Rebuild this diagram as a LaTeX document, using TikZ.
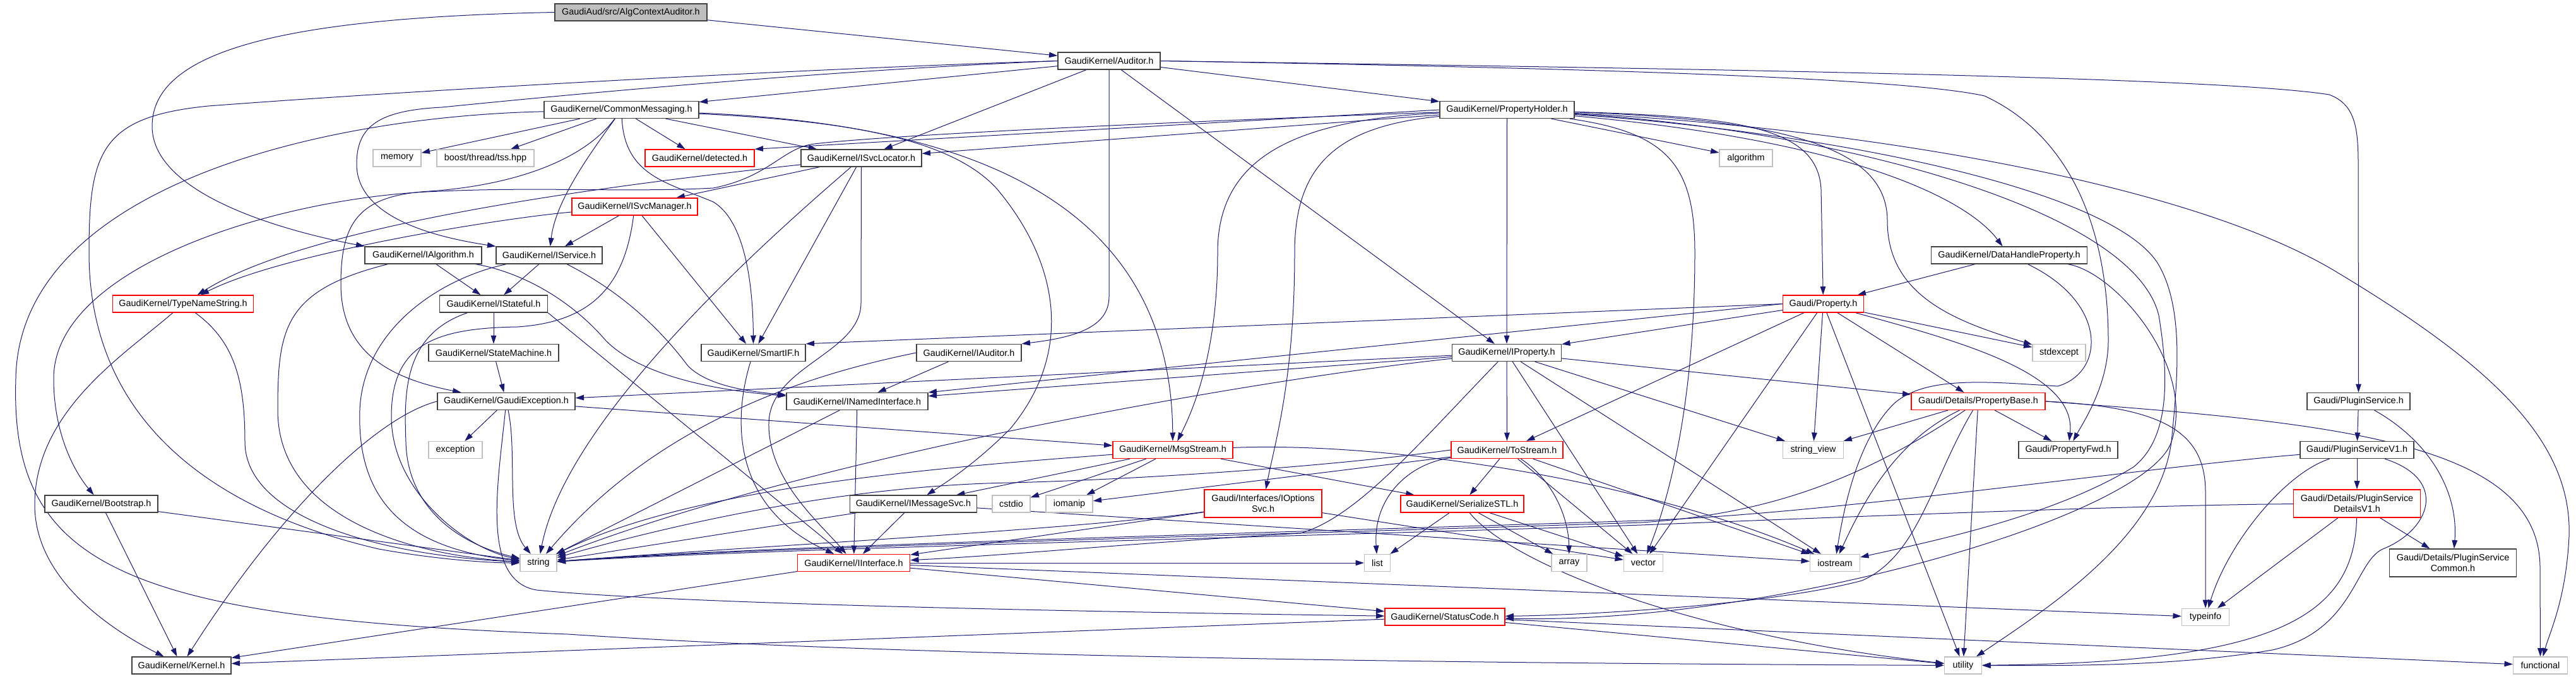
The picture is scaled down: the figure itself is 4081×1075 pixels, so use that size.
\documentclass[tikz,border=0pt]{standalone}
\usepackage{fontspec}
\setmainfont{Liberation Sans}
\usetikzlibrary{arrows.meta}
\definecolor{edgec}{HTML}{191970}
\definecolor{grayb}{HTML}{BFBFBF}
\definecolor{blkb}{HTML}{404040}
\definecolor{redb}{HTML}{FF0000}
\pgfdeclarelayer{bg}
\pgfsetlayers{bg,main}
\begin{document}
\begin{tikzpicture}[x=0.75pt,y=-0.75pt,
  base/.style={rectangle, inner sep=0pt, fill=white, align=center, font=\fontsize{10.8}{13}\selectfont},
  nk/.style={base, draw=blkb, line width=1pt},
  nr/.style={base, draw=redb, line width=1pt},
  ng/.style={base, draw=grayb, line width=1pt},
  wh/.style 2 args={minimum width={#1*0.75pt}, minimum height={#2*0.75pt}},
  lnk/.style={draw=edgec, line width=0.75pt, -{Triangle[length=10pt,width=6.5pt]}}]
\useasboundingbox (0,0) rectangle (4081,1075);
% ---------------- nodes
\node[nk,wh={241}{27},fill=grayb] (aca) at (999.5,19.5) {GaudiAud/src/AlgContextAuditor.h};
\node[nk,wh={162}{27}] (aud) at (1757,96.5) {GaudiKernel/Auditor.h};
\node[nk,wh={245}{27}] (cm) at (984.5,174) {GaudiKernel/CommonMessaging.h};
\node[nk,wh={213}{27}] (ph) at (2387.5,174) {GaudiKernel/PropertyHolder.h};
\node[ng,wh={76}{27}] (mem) at (629,250.5) {memory};
\node[ng,wh={154}{27}] (tss) at (769,250.5) {boost/thread/tss.hpp};
\node[nr,wh={173}{27}] (det) at (1108.5,250.5) {GaudiKernel/detected.h};
\node[nk,wh={191}{27}] (isl) at (1364.5,250.5) {GaudiKernel/ISvcLocator.h};
\node[ng,wh={84}{27}] (alg) at (2766,250.5) {algorithm};
\node[nr,wh={199}{27}] (ism) at (1005.5,327.5) {GaudiKernel/ISvcManager.h};
\node[nk,wh={185}{27}] (ialg) at (670.5,404.5) {GaudiKernel/IAlgorithm.h};
\node[nk,wh={168}{27}] (isvc) at (870,404.5) {GaudiKernel/IService.h};
\node[nk,wh={247}{27}] (dhp) at (3183,404.5) {GaudiKernel/DataHandleProperty.h};
\node[nr,wh={223}{27}] (tns) at (290,481.5) {GaudiKernel/TypeNameString.h};
\node[nk,wh={171}{27}] (ist) at (782,481.5) {GaudiKernel/IStateful.h};
\node[nr,wh={128}{27}] (prop) at (2888.5,481.5) {Gaudi/Property.h};
\node[nk,wh={206}{27}] (sm) at (782,559) {GaudiKernel/StateMachine.h};
\node[nk,wh={165}{27}] (sif) at (1193.5,559) {GaudiKernel/SmartIF.h};
\node[nk,wh={166}{27}] (iaud) at (1535,559) {GaudiKernel/IAuditor.h};
\node[nk,wh={173}{27}] (iprop) at (2387,559) {GaudiKernel/IProperty.h};
\node[ng,wh={84}{27}] (stdex) at (3262,559) {stdexcept};
\node[nk,wh={218}{27}] (gex) at (802,636) {GaudiKernel/GaudiException.h};
\node[nk,wh={224}{27}] (ini) at (1358,636) {GaudiKernel/INamedInterface.h};
\node[nr,wh={212}{27}] (pb) at (3134,636) {Gaudi/Details/PropertyBase.h};
\node[nk,wh={163}{27}] (psvc) at (3736.5,636) {Gaudi/PluginService.h};
\node[ng,wh={85}{27}] (exc) at (721.5,713) {exception};
\node[nr,wh={190}{27}] (msg) at (1858,713) {GaudiKernel/MsgStream.h};
\node[nr,wh={177}{27}] (ts) at (2387.5,713) {GaudiKernel/ToStream.h};
\node[ng,wh={96}{27}] (sv) at (2872.5,713) {string\_view};
\node[nk,wh={157}{27}] (pfwd) at (3276.5,713) {Gaudi/PropertyFwd.h};
\node[nk,wh={180}{27}] (psv1) at (3734,713) {Gaudi/PluginServiceV1.h};
\node[nk,wh={179}{27}] (boot) at (160.5,798.5) {GaudiKernel/Bootstrap.h};
\node[nk,wh={201}{27}] (imsg) at (1447,798.5) {GaudiKernel/IMessageSvc.h};
\node[ng,wh={60}{27}] (cstdio) at (1602,798.5) {cstdio};
\node[ng,wh={74}{27}] (iomanip) at (1694,798.5) {iomanip};
\node[nr,wh={186}{44}] (iopt) at (2001,798) {Gaudi/Interfaces/IOptions\\Svc.h};
\node[nr,wh={195}{27}] (sstl) at (2316.5,798.5) {GaudiKernel/SerializeSTL.h};
\node[nr,wh={201}{44}] (psd1) at (3734,798) {Gaudi/Details/PluginService\\DetailsV1.h};
\node[ng,wh={58}{27}] (str) at (853,892) {string};
\node[nr,wh={178}{27}] (iint) at (1352.5,892) {GaudiKernel/IInterface.h};
\node[ng,wh={41}{27}] (list) at (2182,892) {list};
\node[ng,wh={56}{27}] (array) at (2486,892) {array};
\node[ng,wh={62}{27}] (vector) at (2603.5,892) {vector};
\node[ng,wh={79}{27}] (iostream) at (2907,892) {iostream};
\node[nk,wh={201}{44}] (psc) at (3886,892) {Gaudi/Details/PluginService\\Common.h};
\node[nr,wh={190}{27}] (sc) at (2289,977.5) {GaudiKernel/StatusCode.h};
\node[ng,wh={75}{27}] (typeinfo) at (3494,978) {typeinfo};
\node[nk,wh={157}{27}] (kern) at (287.5,1054.5) {GaudiKernel/Kernel.h};
\node[ng,wh={59}{27}] (util) at (3110,1054.5) {utility};
\node[ng,wh={86}{27}] (func) at (4024.5,1054.5) {functional};
% ---------------- edges
\begin{pgfonlayer}{bg}
\fill[white] (0,0) rectangle (4081,1075);
% AlgContextAuditor
\draw[lnk] (aca) -- (aud);
\draw[lnk] (aca.west) .. controls (450,28) and (241,80) .. (241,200) .. controls (241,300) and (420,360) .. (ialg.north west);
% Auditor
\draw[lnk] (aud) -- (cm);
\draw[lnk] (aud) -- (ph);
\draw[lnk] (aud) -- (isl);
\draw[lnk] (aud) -- (iprop);
\draw[lnk] (aud.west) .. controls (1300,112) and (900,150) .. (700,170) .. controls (600,175) and (565,200) .. (565,260) .. controls (565,330) and (650,370) .. (isvc.north west);
\draw[lnk] (aud.south) -- (1757,470) .. controls (1757,520) and (1700,535) .. (iaud.north east);
\draw[lnk] (aud.east) .. controls (2600,108) and (3500,120) .. (3690,150) .. controls (3730,165) and (3736,200) .. (3736,260) -- (psvc);
\draw[lnk] (aud.east) .. controls (2400,106) and (3000,120) .. (3144,152) .. controls (3290,220) and (3340,380) .. (3340,540) .. controls (3340,610) and (3300,670) .. (pfwd);
\draw[lnk] (aud.west) .. controls (1300,108) and (700,140) .. (330,168) .. controls (160,185) and (141,240) .. (141,400) .. controls (141,640) and (300,800) .. (600,870) .. controls (700,888) and (780,892) .. (str);
% CommonMessaging
\draw[lnk] (cm) -- (mem);
\draw[lnk] (cm) -- (tss);
\draw[lnk] (cm) -- (det);
\draw[lnk] (cm) -- (isl);
\draw[lnk] (cm) .. controls (930,250) and (880,320) .. (isvc);
\draw[lnk] (cm) .. controls (990,280) and (1060,290) .. (1130,320) .. controls (1180,350) and (1193,450) .. (sif);
\draw[lnk] (cm) .. controls (920,260) and (800,295) .. (680,303) .. controls (570,310) and (540,350) .. (540,450) .. controls (540,560) and (620,600) .. (gex);
\draw[lnk] (cm) .. controls (1500,195) and (1855,300) .. (msg);
\draw[lnk] (cm) .. controls (1300,190) and (1500,210) .. (1580,300) .. controls (1680,420) and (1700,560) .. (1600,680) .. controls (1540,740) and (1490,770) .. (imsg);
\draw[lnk] (cm) .. controls (500,185) and (30,300) .. (25,600) .. controls (15,900) and (200,980) .. (900,1005) .. controls (1500,1045) and (2500,1052) .. (util);
% PropertyHolder
\draw[lnk] (ph) -- (alg);
\draw[lnk] (ph.west) -- (det.north east);
\draw[lnk] (ph) -- (isl);
\draw[lnk] (ph) -- (iprop);
\draw[lnk] (ph) .. controls (2750,185) and (2880,200) .. (2885,300) -- (prop);
\draw[lnk] (ph) .. controls (2950,225) and (3120,320) .. (dhp);
\draw[lnk] (ph) .. controls (2850,190) and (2990,240) .. (2990,350) .. controls (2990,470) and (3100,510) .. (stdex);
\draw[lnk] (ph) .. controls (2050,190) and (1929,250) .. (1929,400) .. controls (1929,560) and (1890,650) .. (msg);
\draw[lnk] (ph) .. controls (2120,200) and (2051,260) .. (2051,400) .. controls (2051,600) and (2020,700) .. (iopt);
\draw[lnk] (ph) .. controls (2640,210) and (2685,260) .. (2685,400) .. controls (2685,650) and (2640,800) .. (vector);
\draw[lnk] (ph) .. controls (2900,200) and (3450,280) .. (3700,430) .. controls (3950,580) and (4075,700) .. (4070,850) .. controls (4065,950) and (4040,1000) .. (func);
\draw[lnk] (ph) .. controls (2900,210) and (3350,300) .. (3420,420) .. controls (3460,490) and (3450,600) .. (3440,700) .. controls (3420,850) and (3250,960) .. (util);
\draw[lnk] (ph) .. controls (2900,205) and (3380,330) .. (3420,500) .. controls (3440,620) and (3430,700) .. (3380,740) .. controls (3250,820) and (3050,860) .. (iostream);
\draw[lnk] (ph) .. controls (1800,195) and (1400,215) .. (1290,228) .. controls (1240,234) and (1220,280) .. (1130,298) .. controls (1000,305) and (850,296) .. (700,303) .. controls (450,310) and (85,420) .. (85,600) .. controls (85,690) and (120,750) .. (boot);
% ISvcLocator
\draw[lnk] (isl) -- (ism);
\draw[lnk] (isl) .. controls (1000,290) and (500,350) .. (tns);
\draw[lnk] (isl) -- (sif);
\draw[lnk] (isl.south) -- (1364,480) .. controls (1364,560) and (1220,580) .. (1218,670) .. controls (1216,760) and (1300,830) .. (iint);
\draw[lnk] (isl) .. controls (1250,350) and (900,650) .. (str);
% ISvcManager
\draw[lnk] (ism) -- (isvc);
\draw[lnk] (ism) -- (sif);
\draw[lnk] (ism) .. controls (800,345) and (450,400) .. (tns);
\draw[lnk] (ism) .. controls (990,450) and (940,510) .. (820,518) .. controls (690,520) and (620,545) .. (620,660) .. controls (620,780) and (740,870) .. (str);
% IAlgorithm
\draw[lnk] (ialg) -- (ist);
\draw[lnk] (ialg) .. controls (820,430) and (900,470) .. (960,540) .. controls (1020,600) and (1150,620) .. (ini);
\draw[lnk] (ialg) .. controls (450,460) and (440,520) .. (440,650) .. controls (440,820) and (650,880) .. (str);
% IService
\draw[lnk] (isvc) -- (ist);
\draw[lnk] (isvc) .. controls (1000,470) and (1060,540) .. (1090,580) .. controls (1120,610) and (1180,620) .. (ini);
\draw[lnk] (isvc) .. controls (700,440) and (575,520) .. (570,650) .. controls (565,800) and (650,870) .. (str);
% TypeNameString
\draw[lnk] (tns) .. controls (200,560) and (55,650) .. (55,800) .. controls (55,920) and (180,1000) .. (kern);
\draw[lnk] (tns) .. controls (370,540) and (388,600) .. (388,700) .. controls (388,820) and (600,880) .. (str);
% IStateful
\draw[lnk] (ist) -- (sm);
\draw[lnk] (ist.south east) -- (iint);
\draw[lnk] (ist) .. controls (640,530) and (640,620) .. (643,700) .. controls (645,800) and (720,860) .. (str);
% StateMachine
\draw[lnk] (sm) -- (gex);
% DataHandleProperty
\draw[lnk] (dhp) -- (prop);
\draw[lnk] (dhp) .. controls (3340,480) and (3335,590) .. (3260,612) .. controls (3150,605) and (3050,595) .. (3000,640) .. controls (2950,690) and (2925,780) .. (iostream);
\draw[lnk] (dhp) .. controls (3350,430) and (3480,580) .. (3440,700) .. controls (3400,820) and (2800,990) .. (sc);
% Property.h
\draw[lnk] (prop) -- (iprop);
\draw[lnk] (prop) -- (pb);
\draw[lnk] (prop) .. controls (3100,540) and (3290,590) .. (pfwd);
\draw[lnk] (prop.west) -- (sif.north east);
\draw[lnk] (prop.west) -- (ini.north east);
\draw[lnk] (prop) -- (ts);
\draw[lnk] (prop) -- (stdex);
\draw[lnk] (prop) -- (sv);
\draw[lnk] (prop) -- (util);
\draw[lnk] (prop) -- (vector);
% SmartIF
\draw[lnk] (sif) .. controls (1165,650) and (1150,800) .. (iint);
% IAuditor
\draw[lnk] (iaud) -- (ini);
\draw[lnk] (iaud.west) .. controls (1300,590) and (1050,660) .. (str);
% IProperty
\draw[lnk] (iprop) -- (ts);
\draw[lnk] (iprop) -- (vector);
\draw[lnk] (iprop) -- (iostream);
\draw[lnk] (iprop) -- (ini);
\draw[lnk] (iprop) -- (gex);
\draw[lnk] (iprop) .. controls (2250,700) and (2150,820) .. (2060,845) .. controls (1800,860) and (1600,880) .. (iint);
\draw[lnk] (iprop) -- (pb);
\draw[lnk] (iprop) -- (sv);
\draw[lnk] (iprop) .. controls (2000,600) and (1300,720) .. (str);
% GaudiException
\draw[lnk] (gex) -- (exc);
\draw[lnk] (gex) .. controls (820,720) and (800,830) .. (str);
\draw[lnk] (gex.west) .. controls (600,660) and (450,800) .. (kern);
\draw[lnk] (gex) .. controls (790,760) and (760,920) .. (850,935) .. controls (1100,960) and (1900,972) .. (sc);
\draw[lnk] (gex) -- (msg);
% INamedInterface
\draw[lnk] (ini) -- (iint);
\draw[lnk] (ini) -- (str);
% MsgStream
\draw[lnk] (msg) -- (imsg);
\draw[lnk] (msg) -- (cstdio);
\draw[lnk] (msg) -- (iomanip);
\draw[lnk] (msg) .. controls (1500,740) and (1100,770) .. (str);
\draw[lnk] (msg) -- (sstl);
\draw[lnk] (msg) .. controls (2200,700) and (2600,760) .. (iostream);
% ToStream
\draw[lnk] (ts) -- (sstl);
\draw[lnk] (ts) .. controls (2230,735) and (2175,790) .. (list);
\draw[lnk] (ts) .. controls (2460,760) and (2485,820) .. (array);
\draw[lnk] (ts) -- (vector);
\draw[lnk] (ts) -- (iostream);
\draw[lnk] (ts) -- (iomanip);
\draw[lnk] (ts.west) .. controls (2100,740) and (1800,760) .. (1600,765) .. controls (1300,770) and (1000,850) .. (str);
% PluginService
\draw[lnk] (psvc) -- (psv1);
\draw[lnk] (psvc) .. controls (3850,700) and (3895,780) .. (psc);
% PluginServiceV1
\draw[lnk] (psv1) -- (psd1);
\draw[lnk] (psv1) .. controls (3620,750) and (3530,860) .. (typeinfo);
\draw[lnk] (psv1) .. controls (3880,760) and (3850,840) .. (3775,870) .. controls (3730,890) and (3730,1000) .. (3600,1030) .. controls (3450,1055) and (3300,1055) .. (util);
\draw[lnk] (psv1) .. controls (3400,740) and (2900,815) .. (2600,825) .. controls (2000,845) and (1200,865) .. (str);
% PluginServiceDetailsV1
\draw[lnk] (psd1) -- (psc);
\draw[lnk] (psd1) -- (typeinfo);
\draw[lnk] (psd1) .. controls (3730,980) and (3600,1050) .. (util);
\draw[lnk] (psd1) .. controls (3400,800) and (2900,820) .. (2600,832) .. controls (2000,852) and (1200,870) .. (str);
% Bootstrap
\draw[lnk] (boot) -- (kern);
\draw[lnk] (boot) -- (str);
% IMessageSvc
\draw[lnk] (imsg) -- (iint);
\draw[lnk] (imsg) -- (str);
\draw[lnk] (imsg) -- (iostream);
% IOptionsSvc
\draw[lnk] (iopt) -- (iint);
\draw[lnk] (iopt) .. controls (1700,840) and (1200,865) .. (str);
\draw[lnk] (iopt) -- (vector);
% SerializeSTL
\draw[lnk] (sstl) -- (list);
\draw[lnk] (sstl) -- (array);
\draw[lnk] (sstl) -- (vector);
\draw[lnk] (sstl) .. controls (2400,900) and (2700,1010) .. (util);
% IInterface
\draw[lnk] (iint) -- (sc);
\draw[lnk] (iint) -- (kern);
\draw[lnk] (iint) -- (typeinfo);
\draw[lnk] (iint) -- (list);
% PropertyBase
\draw[lnk] (pb) -- (sv);
\draw[lnk] (pb) -- (pfwd);
\draw[lnk] (pb) .. controls (3000,700) and (2950,800) .. (iostream);
\draw[lnk] (pb) .. controls (3060,760) and (3040,880) .. (2950,920) .. controls (2800,960) and (2500,975) .. (sc);
\draw[lnk] (pb) -- (util);
\draw[lnk] (pb.east) .. controls (3420,645) and (3494,680) .. (3494,780) -- (typeinfo);
\draw[lnk] (pb.east) .. controls (3700,670) and (4024,700) .. (4024,900) -- (func);
\draw[lnk] (pb) .. controls (2950,760) and (2800,815) .. (2600,828) .. controls (2000,848) and (1200,867) .. (str);
% StatusCode
\draw[lnk] (sc) -- (kern);
\draw[lnk] (sc) -- (util);
\draw[lnk] (sc) -- (func);
\end{pgfonlayer}
\end{tikzpicture}
\end{document}
